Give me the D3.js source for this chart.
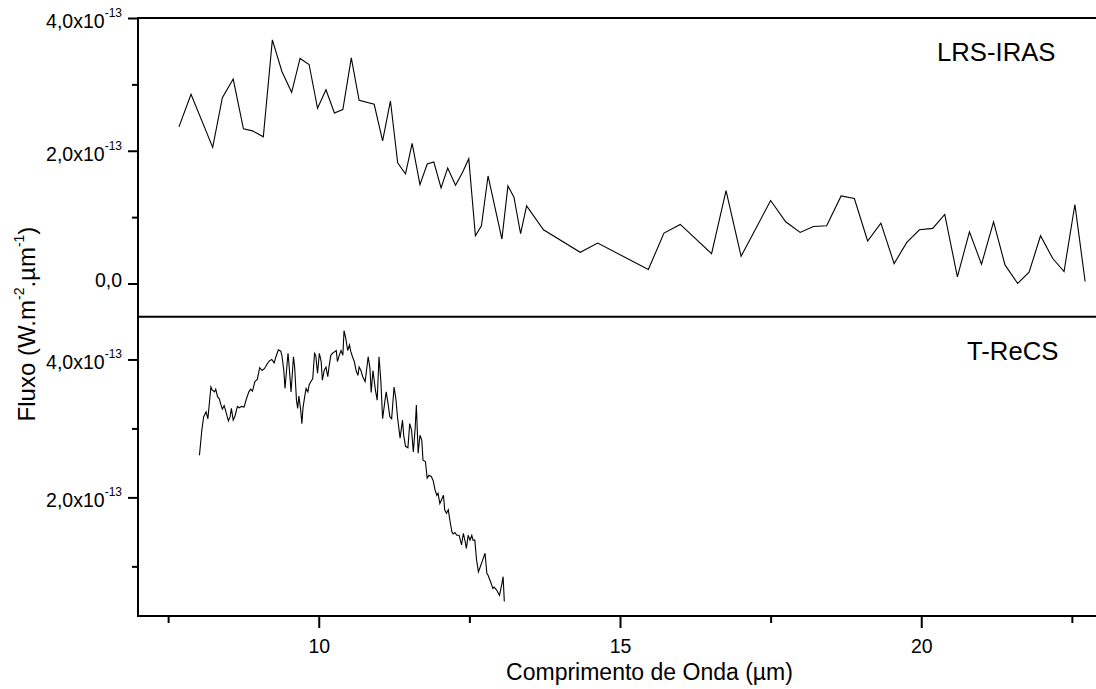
<!DOCTYPE html>
<html>
<head>
<meta charset="utf-8">
<script src="https://cdn.jsdelivr.net/npm/d3@7"></script>
<style>
  html, body { margin: 0; padding: 0; background: #fff; }
  svg { display: block; font-family: "Liberation Sans", Arial, sans-serif; }
</style>
</head>
<body>
<svg id="chart" width="1096" height="689"></svg>
<script>
// Wavelength in µm, flux in units of 1e-13 W m^-2 µm^-1

// LRS-IRAS spectrum
const lrsWave = [7.68, 7.88, 8.24, 8.40, 8.58, 8.75, 8.90, 9.08, 9.23, 9.39,
  9.55, 9.69, 9.84, 9.98, 10.12, 10.26, 10.40, 10.54, 10.67, 10.92,
  11.06, 11.19, 11.31, 11.44, 11.55, 11.68, 11.80, 11.91, 12.03, 12.14,
  12.27, 12.39, 12.49, 12.60, 12.70, 12.81, 13.04, 13.14, 13.24, 13.35,
  13.45, 13.73, 14.34, 14.63, 15.47, 15.73, 16.00, 16.52, 16.76, 17.01,
  17.50, 17.75, 17.99, 18.21, 18.43, 18.67, 18.89, 19.11, 19.33, 19.55,
  19.76, 19.97, 20.19, 20.39, 20.60, 20.80, 21.00, 21.20, 21.39, 21.60,
  21.79, 21.98, 22.18, 22.37, 22.55, 22.72];
const lrsFlux = [2.36, 2.85, 2.05, 2.80, 3.08, 2.33, 2.30, 2.21, 3.67, 3.19,
  2.88, 3.39, 3.30, 2.64, 2.92, 2.57, 2.62, 3.40, 2.76, 2.70,
  2.15, 2.75, 1.82, 1.65, 2.11, 1.49, 1.80, 1.83, 1.44, 1.74,
  1.48, 1.68, 1.88, 0.72, 0.87, 1.62, 0.67, 1.47, 1.30, 0.75,
  1.17, 0.81, 0.47, 0.61, 0.21, 0.76, 0.89, 0.45, 1.40, 0.41,
  1.25, 0.93, 0.77, 0.86, 0.87, 1.32, 1.28, 0.64, 0.91, 0.30,
  0.62, 0.81, 0.83, 1.04, 0.10, 0.78, 0.29, 0.93, 0.28, 0.00,
  0.17, 0.72, 0.38, 0.18, 1.19, 0.03];

// T-ReCS spectrum
const trecsWave = [8.02, 8.06, 8.09, 8.13, 8.16, 8.21, 8.23, 8.27, 8.29, 8.32,
  8.35, 8.37, 8.40, 8.43, 8.46, 8.50, 8.53, 8.55, 8.58, 8.61,
  8.65, 8.68, 8.72, 8.76, 8.80, 8.84, 8.87, 8.90, 8.94, 8.98,
  9.02, 9.06, 9.10, 9.14, 9.18, 9.22, 9.26, 9.29, 9.33, 9.37,
  9.39, 9.42, 9.44, 9.47, 9.49, 9.51, 9.54, 9.56, 9.58, 9.60,
  9.63, 9.65, 9.67, 9.70, 9.72, 9.74, 9.77, 9.79, 9.82, 9.84,
  9.87, 9.90, 9.93, 9.95, 9.98, 10.01, 10.04, 10.06, 10.09, 10.12,
  10.15, 10.17, 10.20, 10.23, 10.26, 10.29, 10.31, 10.34, 10.37, 10.40,
  10.42, 10.45, 10.48, 10.51, 10.53, 10.56, 10.59, 10.62, 10.65, 10.67,
  10.70, 10.73, 10.77, 10.80, 10.82, 10.85, 10.87, 10.90, 10.94, 10.97,
  11.00, 11.03, 11.06, 11.10, 11.12, 11.15, 11.18, 11.21, 11.25, 11.28,
  11.31, 11.35, 11.39, 11.41, 11.44, 11.48, 11.51, 11.54, 11.57, 11.60,
  11.62, 11.65, 11.68, 11.71, 11.73, 11.77, 11.80, 11.83, 11.87, 11.90,
  11.93, 11.96, 11.98, 12.01, 12.04, 12.07, 12.09, 12.12, 12.15, 12.18,
  12.21, 12.23, 12.26, 12.29, 12.33, 12.37, 12.40, 12.43, 12.45, 12.48,
  12.51, 12.54, 12.56, 12.59, 12.62, 12.65, 12.68, 12.72, 12.76, 12.79,
  12.81, 12.85, 12.89, 12.91, 12.95, 13.00, 13.04, 13.06, 13.08];
const trecsFlux = [2.61, 2.98, 3.17, 3.24, 3.14, 3.60, 3.56, 3.53, 3.57, 3.46,
  3.43, 3.36, 3.28, 3.33, 3.24, 3.11, 3.17, 3.29, 3.12, 3.18,
  3.32, 3.30, 3.32, 3.31, 3.43, 3.53, 3.57, 3.54, 3.68, 3.71,
  3.88, 3.84, 3.87, 3.93, 3.98, 4.00, 3.95, 4.04, 4.14, 4.12,
  4.05, 3.84, 3.58, 3.89, 4.09, 3.89, 3.53, 3.77, 4.04, 3.89,
  3.41, 3.29, 3.47, 3.27, 3.07, 3.31, 3.48, 3.58, 3.53, 3.63,
  3.68, 3.72, 4.09, 4.06, 3.80, 4.09, 3.97, 3.70, 3.84, 3.89,
  3.75, 3.89, 4.06, 4.09, 4.11, 4.13, 3.97, 4.06, 4.13, 4.06,
  4.42, 4.30, 4.13, 4.21, 4.12, 4.04, 3.97, 3.84, 3.77, 3.89,
  3.84, 3.75, 3.68, 3.89, 4.04, 3.87, 3.52, 3.84, 3.56, 3.41,
  4.04, 3.70, 3.14, 3.41, 3.53, 3.36, 3.17, 3.14, 3.60, 3.43,
  3.14, 2.86, 3.12, 2.90, 2.74, 2.72, 3.07, 2.98, 2.66, 3.00,
  3.34, 2.64, 2.90, 2.83, 2.54, 2.52, 2.28, 2.32, 2.30, 2.24,
  2.11, 2.03, 2.06, 1.91, 1.97, 2.03, 1.82, 1.77, 1.82, 1.65,
  1.50, 1.47, 1.49, 1.45, 1.45, 1.31, 1.48, 1.36, 1.26, 1.45,
  1.38, 1.45, 1.38, 1.38, 1.09, 0.92, 0.99, 1.09, 1.19, 0.90,
  0.87, 0.78, 0.68, 0.70, 0.66, 0.58, 0.75, 0.85, 0.49];

// Axis ticks
const xMajorTicks = [10, 15, 20];
const xMinorTicks = [7.5, 12.5, 17.5, 22.5];
const topMajorTicks = [0, 2, 4];
const topMinorTicks = [1, 3];
const bottomMajorTicks = [2, 4];
const bottomMinorTicks = [1, 3];

const panelNames = ["LRS-IRAS", "T-ReCS"];
const xTitle = "Comprimento de Onda (\u00b5m)";

// Layout
const plotLeft = 138, plotRight = 1102, plotTop = 18, plotMid = 316.7, plotBottom = 616;
const svg = d3.select("#chart");

const x = d3.scaleLinear().domain([7, 23]).range([plotLeft, plotRight]);
const yTop = d3.scaleLinear().domain([-0.5, 4.0]).range([plotMid, plotTop]);
const yBot = d3.scaleLinear().domain([0.28, 4.62]).range([plotBottom, plotMid]);

const line = (yScale) => d3.line().x(d => x(d[0])).y(d => yScale(d[1]));

// Spectra
svg.append("path")
  .datum(d3.zip(lrsWave, lrsFlux))
  .attr("d", line(yTop))
  .attr("fill", "none").attr("stroke", "#000").attr("stroke-width", 1.1)
  .attr("stroke-linejoin", "miter");

svg.append("path")
  .datum(d3.zip(trecsWave, trecsFlux))
  .attr("d", line(yBot))
  .attr("fill", "none").attr("stroke", "#000").attr("stroke-width", 1.1)
  .attr("stroke-linejoin", "miter");

// Y axes (ticks only; frame drawn separately)
function yAxis(scale, major, minor) {
  const gMinor = svg.append("g").attr("transform", `translate(${plotLeft},0)`)
    .call(d3.axisLeft(scale).tickValues(minor).tickSize(6).tickFormat(""));
  const gMajor = svg.append("g").attr("transform", `translate(${plotLeft},0)`)
    .call(d3.axisLeft(scale).tickValues(major).tickSize(10).tickFormat(""));
  [gMinor, gMajor].forEach(g => {
    g.select(".domain").remove();
    g.selectAll("line").attr("stroke", "#000").attr("stroke-width", 2);
  });
  // labels with superscript exponent
  major.forEach(v => {
    const t = svg.append("text")
      .attr("x", plotLeft - 16)
      .attr("y", scale(v) + (v === 0 ? 3 : 10))
      .attr("text-anchor", "end")
      .attr("font-size", 19.5)
      .attr("fill", "#000");
    if (v === 0) {
      t.text("0,0");
    } else {
      t.append("tspan").text(v.toFixed(1).replace(".", ",") + "x10");
      t.append("tspan").attr("font-size", 12).attr("dy", -11).text("-13");
    }
  });
}
yAxis(yTop, topMajorTicks, topMinorTicks);
yAxis(yBot, bottomMajorTicks, bottomMinorTicks);

// X axis
const gxMinor = svg.append("g").attr("transform", `translate(0,${plotBottom})`)
  .call(d3.axisBottom(x).tickValues(xMinorTicks).tickSize(7).tickFormat(""));
const gxMajor = svg.append("g").attr("transform", `translate(0,${plotBottom})`)
  .call(d3.axisBottom(x).tickValues(xMajorTicks).tickSize(12).tickFormat(d3.format("d")));
[gxMinor, gxMajor].forEach(g => {
  g.select(".domain").remove();
  g.selectAll("line").attr("stroke", "#000").attr("stroke-width", 2);
});
gxMajor.selectAll("text")
  .attr("font-family", "Liberation Sans, Arial, sans-serif")
  .attr("font-size", 19.5).attr("fill", "#000")
  .attr("dy", null).attr("y", 37);

// Frame
const frame = svg.append("g").attr("stroke", "#000").attr("stroke-width", 2).attr("fill", "none");
frame.append("line").attr("x1", plotLeft).attr("x2", plotRight).attr("y1", plotTop).attr("y2", plotTop);
frame.append("line").attr("x1", plotLeft).attr("x2", plotRight).attr("y1", plotMid).attr("y2", plotMid);
frame.append("line").attr("x1", plotLeft).attr("x2", plotRight).attr("y1", plotBottom).attr("y2", plotBottom);
frame.append("line").attr("x1", plotLeft).attr("x2", plotLeft).attr("y1", plotTop - 1).attr("y2", plotBottom + 1);
frame.append("line").attr("x1", plotRight).attr("x2", plotRight).attr("y1", plotTop).attr("y2", plotBottom);

// Panel names
svg.append("text").attr("x", 937).attr("y", 60.5).attr("font-size", 25.7).text(panelNames[0]);
svg.append("text").attr("x", 967).attr("y", 360).attr("font-size", 25.7).text(panelNames[1]);

// Axis titles
svg.append("text")
  .attr("x", 649.5).attr("y", 680)
  .attr("text-anchor", "middle").attr("font-size", 23)
  .text(xTitle);

const yt = svg.append("text")
  .attr("transform", "translate(35,324) rotate(-90)")
  .attr("text-anchor", "middle").attr("font-size", 24);
yt.append("tspan").text("Fluxo (W.m");
yt.append("tspan").attr("font-size", 14).attr("dy", -11).text("-2");
yt.append("tspan").attr("dy", 11).text(".\u00b5m");
yt.append("tspan").attr("font-size", 14).attr("dy", -11).text("-1");
yt.append("tspan").attr("dy", 11).text(")");
</script>
</body>
</html>
